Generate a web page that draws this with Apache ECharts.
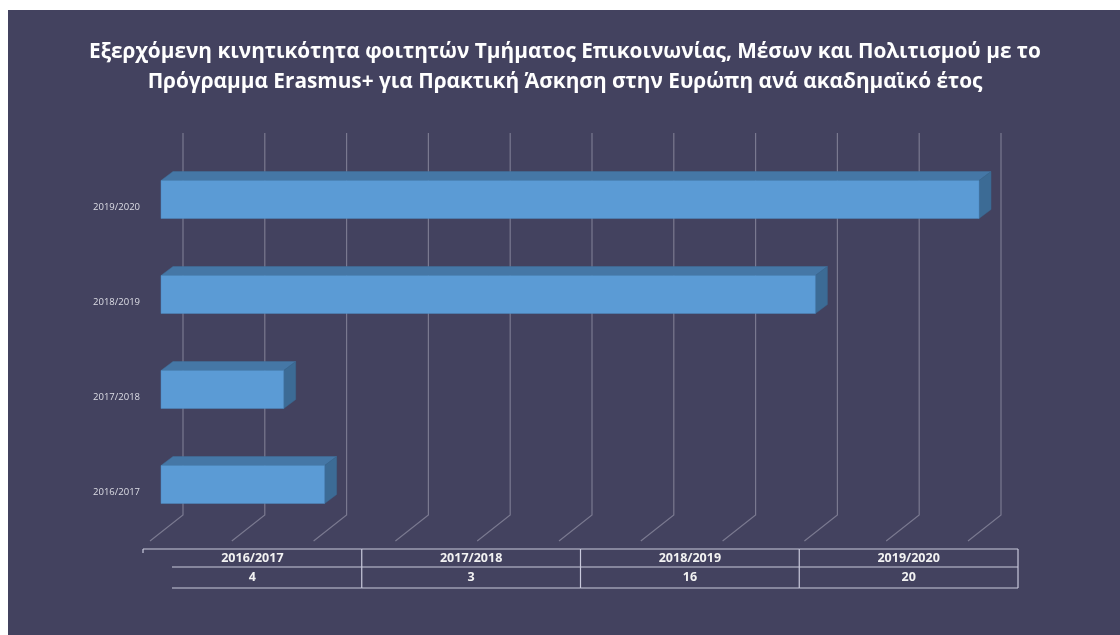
<!DOCTYPE html>
<html>
<head>
<meta charset="utf-8">
<script src="https://cdn.jsdelivr.net/npm/echarts@6/dist/echarts.min.js"></script>
<style>
  html, body { margin: 0; padding: 0; background: #ffffff; }
  #chart { position: absolute; left: 8px; top: 10px; width: 1112px; height: 625px; }
</style>
</head>
<body>
<div id="chart"></div>
<script>
// ---- data ----
const titleText = 'Εξερχόμενη κινητικότητα φοιτητών Τμήματος Επικοινωνίας, Μέσων και Πολιτισμού με το\nΠρόγραμμα Erasmus+ για Πρακτική Άσκηση στην Ευρώπη ανά ακαδημαϊκό έτος';
const categories = ['2016/2017', '2017/2018', '2018/2019', '2019/2020'];
const values = [4, 3, 16, 20];
const xTicks = [0, 2, 4, 6, 8, 10, 12, 14, 16, 18, 20];

// ---- layout constants (pixels, relative to chart div) ----
const OX = 8, OY = 10; // chart div offset in page
const wallTop = 133 - OY, wallBottom = 515 - OY;
const floorDX = -33, floorDY = 26;
const frontShift = -22, barH = 38, barYShift = -7.5, depthX = 12, depthY = -9;

const chart = echarts.init(document.getElementById('chart'), null, { renderer: 'canvas' });

const option = {
  backgroundColor: '#43425f',
  animation: false,
  title: {
    text: titleText,
    left: 560 - OX,
    textAlign: 'center',
    top: 32 - OY,
    textStyle: {
      color: '#ffffff', fontFamily: 'Open Sans', fontWeight: 'bold',
      fontSize: 20.8, lineHeight: 30
    }
  },
  grid: [
    { left: 183 - OX, right: 119, top: 159.5 - OY, bottom: 95.5, containLabel: false },
    { left: 143 - OX, right: 102, top: 549 - OY, height: 39, containLabel: false }
  ],
  xAxis: [
    { type: 'value', gridIndex: 0, min: 0, max: 20, interval: 2,
      axisLine: { show: false }, axisTick: { show: false }, axisLabel: { show: false },
      splitLine: { show: false } },
    { type: 'category', gridIndex: 1, data: categories, show: false }
  ],
  yAxis: [
    { type: 'category', gridIndex: 0, data: categories,
      axisLine: { show: false }, axisTick: { show: false }, splitLine: { show: false },
      axisLabel: { color: '#dedee6', fontFamily: 'Open Sans', fontSize: 9.5, margin: 43 } },
    { type: 'value', gridIndex: 1, min: 0, max: 2, show: false }
  ],
  series: [
    {
      type: 'custom', xAxisIndex: 0, yAxisIndex: 0, silent: true,
      data: xTicks.map(v => [v, 0]),
      renderItem: function (params, api) {
        const x = api.coord([api.value(0), 0])[0];
        return {
          type: 'polyline',
          shape: { points: [[x, wallTop], [x, wallBottom], [x + floorDX, wallBottom + floorDY]] },
          style: { stroke: '#7a7990', lineWidth: 1.2, fill: null }
        };
      }
    },
    {
      type: 'custom', xAxisIndex: 0, yAxisIndex: 0, silent: true,
      data: values.map((v, i) => [v, i]),
      renderItem: function (params, api) {
        const v = api.value(0), c = api.value(1);
        const p0 = api.coord([0, c]);
        const p1 = api.coord([v, c]);
        const x0 = p0[0] + frontShift, x1 = p1[0] + frontShift;
        const cy = p0[1] + barYShift;
        const yt = cy - barH / 2, yb = cy + barH / 2;
        return {
          type: 'group',
          children: [
            { type: 'polygon', shape: { points: [[x0, yt], [x0 + depthX, yt + depthY], [x1 + depthX, yt + depthY], [x1, yt]] },
              style: { fill: '#4577a6', stroke: '#41709c', lineWidth: 0.5 } },
            { type: 'polygon', shape: { points: [[x1, yt], [x1 + depthX, yt + depthY], [x1 + depthX, yb + depthY], [x1, yb]] },
              style: { fill: '#3c6b95', stroke: '#3a6890', lineWidth: 0.5 } },
            { type: 'rect', shape: { x: x0, y: yt, width: x1 - x0, height: barH },
              style: { fill: '#5b9bd5', stroke: '#4f8ac0', lineWidth: 0.5 } }
          ]
        };
      }
    },
    {
      type: 'custom', xAxisIndex: 1, yAxisIndex: 1, silent: true,
      data: values.map((v, i) => [i, v]),
      renderItem: function (params, api) {
        const i = api.value(0), v = api.value(1);
        const cx = api.coord([i, 0])[0];
        const band = api.size([1, 0])[0];
        const top = api.coord([i, 2])[1], bot = api.coord([i, 0])[1];
        const mid = top + 18;
        const left = cx - band / 2, right = cx + band / 2;
        const innerLeft = i === 0 ? left + 29 : left;
        const stroke = { stroke: '#c9c9dc', lineWidth: 1.2 };
        const children = [
          { type: 'line', shape: { x1: left, y1: top, x2: right, y2: top }, style: stroke },
          { type: 'line', shape: { x1: innerLeft, y1: mid, x2: right, y2: mid }, style: stroke },
          { type: 'line', shape: { x1: innerLeft, y1: bot, x2: right, y2: bot }, style: stroke },
          { type: 'line', shape: { x1: right, y1: top, x2: right, y2: bot }, style: stroke },
          { type: 'text', style: { text: categories[i], x: cx, y: top + 9.5, align: 'center', verticalAlign: 'middle',
              fill: '#f2f2f2', font: 'bold 12.5px "Open Sans"' } },
          { type: 'text', style: { text: String(v), x: cx, y: mid + 10.5, align: 'center', verticalAlign: 'middle',
              fill: '#f2f2f2', font: 'bold 12.5px "Open Sans"' } }
        ];
        if (i === 0) {
          children.push({ type: 'line', shape: { x1: left, y1: top, x2: left, y2: top + 4 }, style: stroke });
        }
        return { type: 'group', children: children };
      }
    }
  ]
};
chart.setOption(option);
</script>
</body>
</html>
